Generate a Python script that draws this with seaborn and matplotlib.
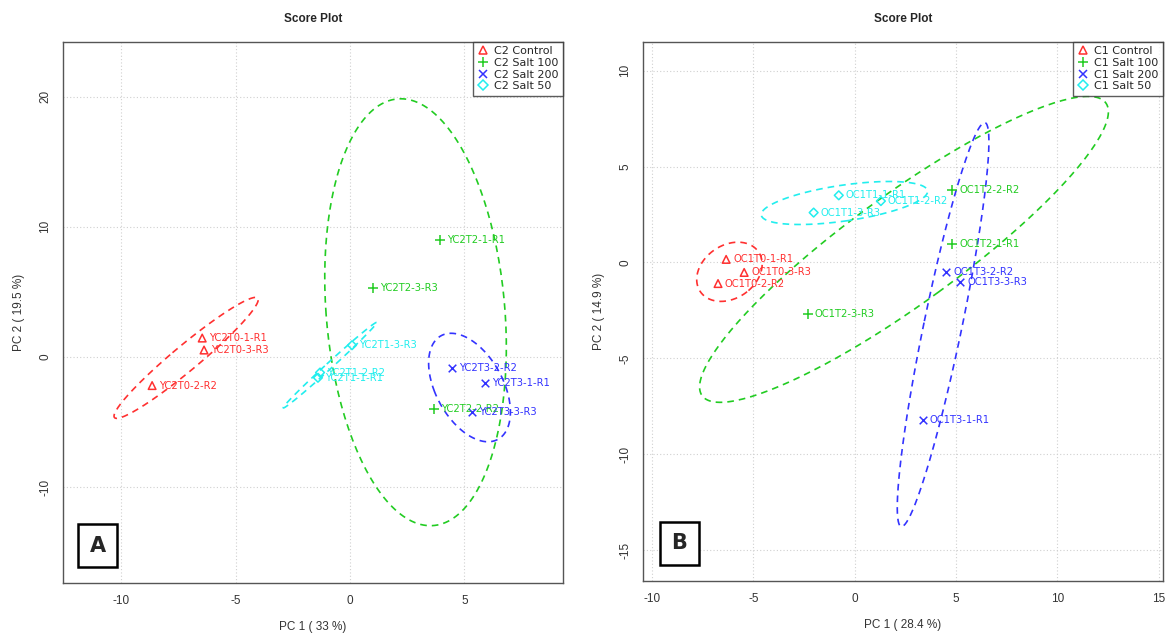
import numpy as np
import pandas as pd
import matplotlib
matplotlib.use("Agg")
import matplotlib.pyplot as plt
from matplotlib.lines import Line2D
import seaborn as sns

# ---- Panel A (C2) scores ----
a_groups = ["C2 Control", "C2 Salt 100", "C2 Salt 200", "C2 Salt 50"]
a_labels = [
    ["YC2T0-1-R1", "YC2T0-3-R3", "YC2T0-2-R2"],
    ["YC2T2-1-R1", "YC2T2-3-R3", "YC2T2-2-R2"],
    ["YC2T3-2-R2", "YC2T3-1-R1", "YC2T3-3-R3"],
    ["YC2T1-3-R3", "YC2T1-2-R2", "YC2T1-1-R1"],
]
a_pc1 = [[-6.46, -6.38, -8.65], [3.93, 1.0, 3.67], [4.45, 5.9, 5.33], [0.09, -1.31, -1.4]]
a_pc2 = [[1.45, 0.53, -2.2], [9.0, 5.3, -4.0], [-0.85, -2.0, -4.2], [0.9, -1.2, -1.6]]

# ---- Panel B (C1) scores ----
b_groups = ["C1 Control", "C1 Salt 100", "C1 Salt 200", "C1 Salt 50"]
b_labels = [
    ["OC1T0-1-R1", "OC1T0-3-R3", "OC1T0-2-R2"],
    ["OC1T2-2-R2", "OC1T2-1-R1", "OC1T2-3-R3"],
    ["OC1T3-2-R2", "OC1T3-3-R3", "OC1T3-1-R1"],
    ["OC1T1-1-R1", "OC1T1-2-R2", "OC1T1-3-R3"],
]
b_pc1 = [[-6.35, -5.46, -6.75], [4.81, 4.81, -2.33], [4.51, 5.2, 3.37], [-0.79, 1.29, -2.03]]
b_pc2 = [[0.16, -0.52, -1.1], [3.8, 0.95, -2.7], [-0.52, -1.0, -8.2], [3.5, 3.2, 2.6]]

colors = ["#FF3030", "#22CC22", "#3333FF", "#22EEEE"]
markers = ["^", "+", "x", "D"]
marker_sizes = [30, 45, 30, 20]


def make_df(groups, labels, pc1, pc2):
    rows = []
    for g, labs, xs, ys in zip(groups, labels, pc1, pc2):
        for lab, x, y in zip(labs, xs, ys):
            rows.append({"group": g, "label": lab, "PC1": x, "PC2": y})
    return pd.DataFrame(rows)


def conf_ellipse(x, y, level_t=np.sqrt(-2 * np.log(0.05)), n=200):
    # 95% ellipse from the group's covariance (chi-square, 2 df)
    pts = np.column_stack([x, y])
    mu = pts.mean(axis=0)
    cov = np.cov(pts, rowvar=False)
    vals, vecs = np.linalg.eigh(cov)
    vals = np.clip(vals, 0, None)
    t = np.linspace(0, 2 * np.pi, n)
    circ = np.vstack([np.cos(t), np.sin(t)])
    ell = vecs @ (np.sqrt(vals)[:, None] * circ) * level_t
    return ell[0] + mu[0], ell[1] + mu[1]


def draw_panel(ax, df, groups, xlim, ylim, xticks, yticks, xlab, ylab, letter):
    ax.set_facecolor("white")
    for g, c, m, s in zip(groups, colors, markers, marker_sizes):
        sub = df[df["group"] == g]
        ex, ey = conf_ellipse(sub["PC1"].values, sub["PC2"].values)
        ax.plot(ex, ey, color=c, linestyle=(0, (4, 3)), linewidth=1.2, zorder=2)
        if m in ("+", "x"):
            sns.scatterplot(data=sub, x="PC1", y="PC2", marker=m, s=s, color=c,
                            linewidth=1.1, ax=ax, zorder=3, legend=False)
        else:
            sns.scatterplot(data=sub, x="PC1", y="PC2", marker=m, s=s,
                            facecolors="none", edgecolor=c,
                            linewidth=1.1, ax=ax, zorder=3, legend=False)
        for _, r in sub.iterrows():
            ax.annotate(r["label"], (r["PC1"], r["PC2"]), xytext=(5, 0),
                        textcoords="offset points", va="center", ha="left",
                        fontsize=7.2, color=c, family="DejaVu Sans", zorder=4)

    ax.set_xlim(*xlim)
    ax.set_ylim(*ylim)
    ax.set_xticks(xticks)
    ax.set_yticks(yticks)
    ax.grid(True, color="#D0D0D0", linestyle=(0, (1, 2)), linewidth=0.8)
    ax.set_axisbelow(True)
    for sp in ax.spines.values():
        sp.set_color("#555555")
        sp.set_linewidth(1.0)
    ax.tick_params(axis="both", direction="out", length=5, color="#555555",
                   labelsize=8.5, labelcolor="#333333")
    for lab in ax.get_yticklabels():
        lab.set_rotation(90)
        lab.set_va("center")
    ax.set_xlabel(xlab, fontsize=8.5, color="#333333", labelpad=10)
    ax.set_ylabel(ylab, fontsize=8.5, color="#333333", labelpad=10)
    ax.set_title("Score Plot", fontsize=8.5, fontweight="bold", pad=14)

    handles = [Line2D([], [], linestyle="none", marker=m, color=c,
                      markerfacecolor="none", markersize=ms, markeredgewidth=1.1)
               for c, m, ms in zip(colors, markers, [6, 7, 6, 5])]
    leg = ax.legend(handles, groups, loc="upper right", borderaxespad=0,
                    frameon=True, fancybox=False, handlelength=1.0,
                    handletextpad=0.5, labelspacing=0.15, borderpad=0.4,
                    prop={"family": "DejaVu Sans", "size": 8})
    leg.get_frame().set_edgecolor("#333333")
    leg.get_frame().set_linewidth(1.0)

    ax.text(0.07, 0.07, letter, transform=ax.transAxes, ha="center", va="center",
            fontsize=15, fontweight="bold", family="DejaVu Sans",
            bbox=dict(boxstyle="square,pad=0.55", facecolor="white",
                      edgecolor="black", linewidth=1.8))


sns.set_theme(style="white")
plt.rcParams["font.family"] = ["Liberation Sans", "DejaVu Sans"]
plt.rcParams["axes.unicode_minus"] = False

df_a = make_df(a_groups, a_labels, a_pc1, a_pc2)
df_b = make_df(b_groups, b_labels, b_pc1, b_pc2)

fig = plt.figure(figsize=(11.65, 6.44), dpi=100)
ax_a = fig.add_axes([0.054, 0.094, 0.429, 0.841])
ax_b = fig.add_axes([0.552, 0.098, 0.446, 0.837])

draw_panel(ax_a, df_a, a_groups, (-12.55, 9.3), (-17.4, 24.2),
           [-10, -5, 0, 5], [-10, 0, 10, 20],
           "PC 1 ( 33 %)", "PC 2 ( 19.5 %)", "A")
draw_panel(ax_b, df_b, b_groups, (-10.45, 15.2), (-16.6, 11.5),
           [-10, -5, 0, 5, 10, 15], [-15, -10, -5, 0, 5, 10],
           "PC 1 ( 28.4 %)", "PC 2 ( 14.9 %)", "B")

fig.savefig("out.png", dpi=100, facecolor="white")
